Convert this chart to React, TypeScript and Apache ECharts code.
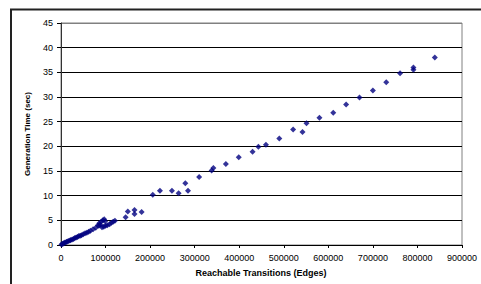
import React, { useEffect, useRef } from "react";
import * as echarts from "echarts";

const edges: number[] = [
  1000, 3000, 5000, 7000, 9000, 12000, 14000, 17000, 20000, 22000, 25000, 28000, 31000,
  34000, 37000, 40000, 43000, 46000, 50000, 54000, 58000, 62000, 66000, 72000, 78000,
  83000, 85000, 86000, 88000, 90000, 94000, 97000, 99000, 92000, 96000, 100000, 104000,
  109000, 113000, 117000, 121000,
  145000, 150000, 165000, 165000, 181000, 206000, 222000, 249000, 264000, 279000, 285000,
  310000, 338000, 342000, 370000, 399000, 430000, 443000, 460000, 490000, 521000, 542000,
  551000, 580000, 611000, 640000, 670000, 700000, 730000, 761000, 791000, 791000, 839000,
];
const seconds: number[] = [
  0.1, 0.2, 0.3, 0.4, 0.5, 0.6, 0.7, 0.8, 0.9, 1.0, 1.1, 1.2, 1.4,
  1.5, 1.6, 1.8, 1.9, 2.0, 2.2, 2.4, 2.5, 2.7, 2.9, 3.2, 3.5,
  4.0, 3.9, 4.4, 4.1, 4.7, 5.0, 5.2, 4.8, 3.6, 3.7, 3.9, 4.0,
  4.2, 4.5, 4.7, 4.9,
  5.6, 6.8, 7.1, 6.3, 6.7, 10.2, 11.0, 11.0, 10.5, 12.5, 11.0,
  13.8, 15.1, 15.6, 16.4, 17.8, 18.9, 19.9, 20.3, 21.6, 23.4, 22.9,
  24.7, 25.8, 26.8, 28.5, 29.9, 31.3, 33.0, 34.8, 35.5, 36.0, 38.0,
];

const xTitle = "Reachable Transitions (Edges)";
const yTitle = "Generation Time (sec)";

export default function App() {
  const ref = useRef<HTMLDivElement>(null);
  useEffect(() => {
    if (!ref.current) return;
    const chart = echarts.init(ref.current, null, { renderer: "svg" });
    const font = "'Liberation Sans', Arial, sans-serif";
    chart.setOption({
      animation: false,
      backgroundColor: "#fff",
      textStyle: { fontFamily: font },
      grid: {
        left: 61, right: 19, top: 23, bottom: 39,
        show: true, borderColor: "#808080", borderWidth: 1,
      },
      xAxis: {
        type: "value", min: 0, max: 900000, interval: 100000,
        axisLine: { lineStyle: { color: "#000", width: 1 } },
        axisTick: { show: true, inside: false, length: 3, lineStyle: { color: "#000" } },
        axisLabel: {
          color: "#000", fontSize: 9, margin: 8, fontFamily: font,
          formatter: (v: number) => String(v),
        },
        splitLine: { show: false },
      },
      yAxis: {
        type: "value", min: 0, max: 45, interval: 5,
        axisLine: { show: true, lineStyle: { color: "#333", width: 1 } },
        axisTick: { show: true, inside: false, length: 4, lineStyle: { color: "#000" } },
        axisLabel: { color: "#000", fontSize: 9, margin: 8, fontFamily: font },
        splitLine: {
          show: true,
          lineStyle: {
            color: ["#000", "#000", "#000", "#000", "#000", "#000", "#000", "#000", "#000", "#808080"],
            width: 1,
          },
        },
      },
      series: [
        {
          type: "scatter",
          symbol: "diamond",
          symbolSize: 6,
          itemStyle: { color: "#000080" },
          data: edges.map((e, i) => [e, seconds[i]]),
        },
      ],
      graphic: [
        {
          type: "line",
          shape: { x1: 10, y1: 9.5, x2: 481, y2: 9.5 },
          style: { stroke: "#222", lineWidth: 2 },
          silent: true,
        },
        {
          type: "line",
          shape: { x1: 11, y1: 9, x2: 11, y2: 284 },
          style: { stroke: "#222", lineWidth: 2 },
          silent: true,
        },
        {
          type: "text",
          x: 261, y: 273,
          style: {
            text: xTitle, fontSize: 9, fontWeight: "bold", fill: "#000",
            align: "center", verticalAlign: "middle", fontFamily: font,
          },
        },
        {
          type: "text",
          x: 27, y: 134, rotation: Math.PI / 2,
          style: {
            text: yTitle, fontSize: 8, fontWeight: "bold", fill: "#000",
            align: "center", verticalAlign: "middle", fontFamily: font,
          },
        },
      ],
    });
    return () => chart.dispose();
  }, []);
  return (
    <div
      ref={ref}
      style={{ position: "absolute", left: 0, top: 0, width: 481, height: 284 }}
    />
  );
}
